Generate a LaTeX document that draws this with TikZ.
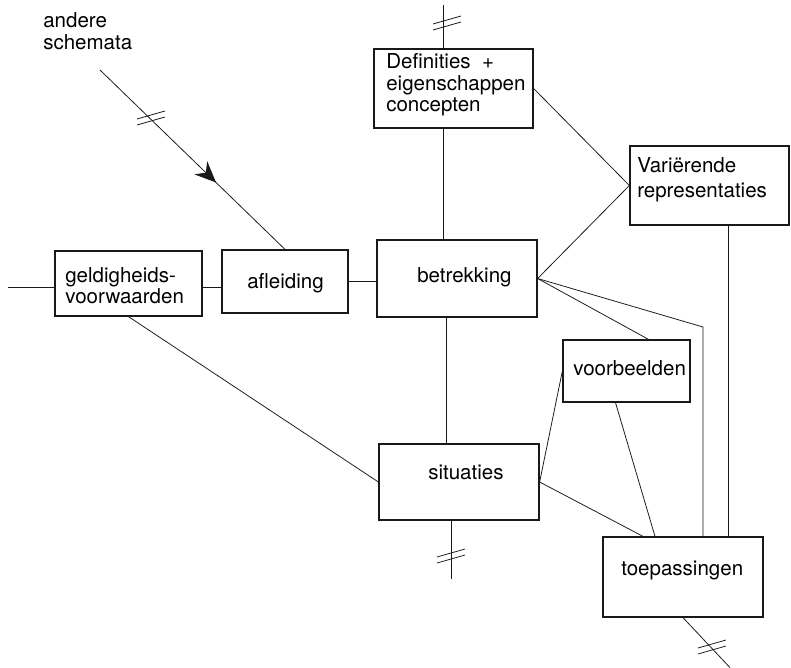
\documentclass[tikz,border=0pt]{standalone}
\usepackage{fontspec}
\setmainfont{TeX Gyre Heros}
\usepackage{tikz}
\usetikzlibrary{arrows.meta,positioning,calc,fit}
\definecolor{skline}{RGB}{25,25,25}

\begin{document}
\begin{tikzpicture}[
  x=0.025cm, y=-0.025cm,
  >={Stealth[length=15pt,width=13pt,inset=5pt]},
  font=\fontsize{14.6}{15.5}\selectfont,
  box/.style={draw=skline, line width=0.9pt, inner sep=0pt},
  txt/.style={anchor=north west, inner sep=0pt, align=left},
  link/.style={draw=skline, line width=0.55pt},
  hashmark/.pic={\draw[link] (-14,7) -- (14,-1); \draw[link] (-14,1) -- (14,-7);}
]
\useasboundingbox (0,0) rectangle (791,667);

% boxes
\node[box, fit={(55,251) (202,316)}] (geld) {};
\node[box, fit={(222,250) (348,313)}] (afl) {};
\node[box, fit={(377,240) (537,317)}] (betr) {};
\node[box, fit={(374,49) (533,128)}] (defs) {};
\node[box, fit={(630,146) (789,225)}] (varr) {};
\node[box, fit={(563,340) (690,402)}] (voorb) {};
\node[box, fit={(379,444) (539,520)}] (sit) {};
\node[box, fit={(603,537) (763,617)}] (toep) {};

% texts
\node[txt] (schem) at (43,12) {andere\\schemata};
\node[txt, font=\fontsize{14.6}{13.2}\selectfont] (geldtxt) at (65,267) {geldigheids-\\voorwaarden};
\node[txt] (afltxt) at (247,273) {afleiding};
\node[txt] (betrtxt) at (417,267) {betrekking};
\node[txt] (defstxt) at (386,53) {Definities \ +\\eigenschappen\\concepten};
\node[txt, font=\fontsize{14.6}{17.8}\selectfont] (varrtxt) at (637,157) {Variërende\\representaties};
\node[txt] (voorbtxt) at (573,360) {voorbeelden};
\node[txt] (sittxt) at (428,465) {situaties};
\node[txt] (toeptxt) at (621,561) {toepassingen};

% free ends
\coordinate (in) at (100,70);
\coordinate (lin) at (8,287);
\coordinate (top) at (443,5);
\coordinate (bend) at (703,327);

\draw[link] (lin) -- (lin -| geld.west);
\draw[link] (geld.east |- lin) -- (afl.west |- lin);
\draw[link] (afl.east) -- (afl.east -| betr.west);
\draw[link,->] (in) -- ($(in)!0.627!(afl.north)$);
\draw[link] ($(in)!0.62!(afl.north)$) -- (afl.north);
\pic at (151,118) {hashmark};

\draw[link] (top) -- (top |- defs.north);
\pic at (447,23) {hashmark};
\draw[link] (top |- defs.south) -- (top |- betr.north);
\draw[link] ($(betr.south)+(-11,0)$) coordinate (bs) -- (bs |- sit.north);
\draw[link] ($(sit.south)+(-8,0)$) coordinate (ss) -- ($(ss)+(0,58)$);
\pic at (451,556) {hashmark};
\draw[link] (toep.south) -- ($(toep.south)+(47,50)$);
\pic at (712,647) {hashmark};

\draw[link] (defs.east) -- (varr.west);
\draw[link] (betr.east) -- (varr.west);
\draw[link] (betr.east) -- ($(voorb.north)+(22,0)$);
\draw[link] (betr.east) -- (bend) -- (bend |- toep.north);
\draw[link] ($(varr.south)+(19,0)$) coordinate (vs) -- (vs |- toep.north);
\draw[link] (geld.south) -- (sit.west);
\draw[link] (voorb.west) -- (sit.east);
\draw[link] (sit.east) -- ($(toep.north)+(-40,0)$);
\draw[link] ($(voorb.south)+(-11,0)$) -- ($(toep.north)+(-28,0)$);
\end{tikzpicture}
\end{document}
